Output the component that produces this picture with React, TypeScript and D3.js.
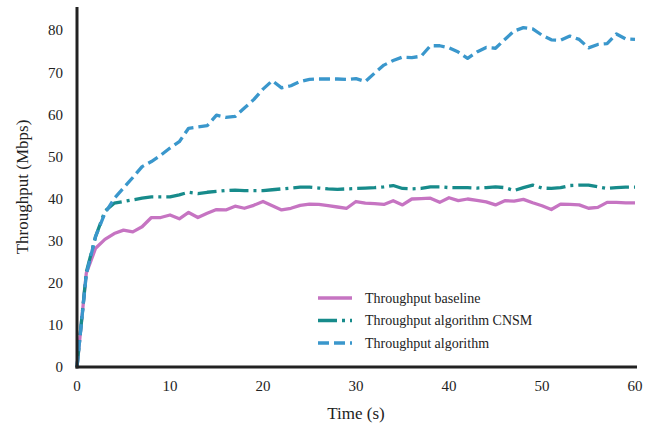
import React from "react";
import * as d3 from "d3";

const times = d3.range(0, 61);
const baseline = [0, 22.3, 28.2, 30.3, 31.7, 32.5, 32.1, 33.3, 35.5, 35.5, 36.1, 35.2, 36.7, 35.5, 36.5, 37.4, 37.3, 38.2, 37.7, 38.4, 39.3, 38.3, 37.3, 37.7, 38.4, 38.7, 38.6, 38.3, 38.0, 37.7, 39.3, 38.9, 38.8, 38.6, 39.5, 38.5, 39.9, 40.0, 40.1, 39.1, 40.2, 39.5, 39.9, 39.6, 39.2, 38.5, 39.5, 39.4, 39.8, 39.0, 38.3, 37.4, 38.7, 38.6, 38.5, 37.7, 37.9, 39.1, 39.1, 39.0, 39.0];
const cnsm = [0, 22.5, 31, 37, 38.9, 39.3, 39.7, 40.1, 40.4, 40.4, 40.4, 40.9, 41.5, 41.2, 41.5, 41.7, 41.9, 42.0, 41.9, 41.9, 41.9, 42.1, 42.3, 42.5, 42.7, 42.7, 42.5, 42.3, 42.2, 42.3, 42.4, 42.5, 42.6, 42.8, 43.1, 42.4, 42.3, 42.4, 42.8, 42.8, 42.6, 42.6, 42.6, 42.5, 42.6, 42.8, 42.6, 41.9, 42.6, 43.2, 42.5, 42.4, 42.6, 43.1, 43.2, 43.2, 42.8, 42.4, 42.6, 42.7, 42.7];
const algorithm = [0, 22, 31, 36.5, 40, 42.5, 45, 47.6, 48.8, 50.3, 52, 53.5, 56.7, 57, 57.3, 59.8, 59.3, 59.5, 61.5, 63.5, 66, 68, 66.3, 66.8, 67.8, 68.3, 68.4, 68.4, 68.4, 68.3, 68.5, 67.8, 69.8, 71.7, 72.8, 73.6, 73.5, 73.8, 76.3, 76.3, 75.8, 74.8, 73.3, 74.8, 75.9, 75.7, 77.8, 79.8, 80.6, 80.3, 78.8, 77.7, 77.6, 78.6, 77.8, 75.8, 76.6, 76.8, 79.1, 77.9, 77.8];
const xTicks = [0, 10, 20, 30, 40, 50, 60];
const yTicks = [0, 10, 20, 30, 40, 50, 60, 70, 80];
const seriesNames = ["Throughput baseline", "Throughput algorithm CNSM", "Throughput algorithm"];

const W = 658, H = 424;
const left = 77, right = 635, top = 7, bottom = 367;
const FONT = "Liberation Serif";

export default function App() {
  const x = d3.scaleLinear().domain([0, 60]).range([left, right]);
  const y = d3.scaleLinear().domain([0, 85.5]).range([bottom, top]);
  const line = (vals: number[]) =>
    d3.line<number>().x((_, i) => x(times[i])).y((v) => y(v))(vals) || "";

  const series = [
    { name: seriesNames[0], vals: baseline, color: "#c674c2", dash: "" },
    { name: seriesNames[1], vals: cnsm, color: "#178b8b", dash: "19,5,3,5" },
    { name: seriesNames[2], vals: algorithm, color: "#3a97cc", dash: "11,5" },
  ];
  const txt = { fontFamily: FONT, fill: "#222" } as React.CSSProperties;

  return (
    <svg width={W} height={H} style={{ position: "absolute", left: 0, top: 0, background: "#fff" }}>
      <rect width={W} height={H} fill="#fff" />
      {series.map((s) => (
        <path key={s.name} d={line(s.vals)} fill="none" stroke={s.color} strokeWidth={3.3}
          strokeDasharray={s.dash || undefined} strokeLinejoin="round" strokeLinecap="butt" />
      ))}
      <line x1={left} x2={left} y1={top} y2={bottom + 1.5} stroke="#222" strokeWidth={3} />
      <line x1={left - 1.5} x2={right + 2} y1={bottom} y2={bottom} stroke="#222" strokeWidth={3} />
      {yTicks.map((t) => (
        <text key={t} x={63} y={y(t)} dy="0.35em" textAnchor="end" style={{ ...txt, fontSize: 15 }}>{t}</text>
      ))}
      {xTicks.map((t) => (
        <text key={t} x={x(t)} y={386} dy="0.35em" textAnchor="middle" style={{ ...txt, fontSize: 15 }}>{t}</text>
      ))}
      <text x={356} y={413} dy="0.35em" textAnchor="middle" style={{ ...txt, fontSize: 17 }}>Time (s)</text>
      <text transform={`translate(22,${(top + bottom) / 2}) rotate(-90)`} dy="0.35em" textAnchor="middle" style={{ ...txt, fontSize: 17 }}>Throughput (Mbps)</text>
      {series.map((s, i) => {
        const ly = 298 + i * 22.5;
        return (
          <g key={s.name}>
            <line x1={318} x2={352} y1={ly} y2={ly} stroke={s.color} strokeWidth={3.3} strokeDasharray={s.dash || undefined} />
            <text x={365} y={ly} dy="0.35em" style={{ ...txt, fontSize: 14 }}>{s.name}</text>
          </g>
        );
      })}
    </svg>
  );
}
